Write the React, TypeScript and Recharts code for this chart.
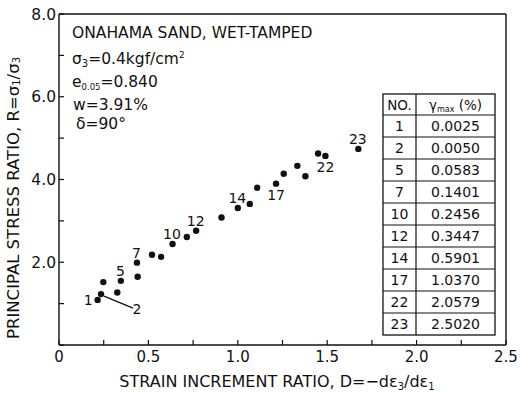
import { ScatterChart, Scatter, XAxis, YAxis } from "recharts";

// specimen numbers, D = -dε3/dε1 and R = σ1/σ3
const testNo = [1, 2, 3, 4, 5, 6, 7, 8, 9, 10, 11, 12, 13, 14, 15, 16, 17, 18, 19, 20, 21, 22, 23];
const strainRatio = [
  0.216, 0.235, 0.248, 0.326, 0.346, 0.44, 0.436, 0.52, 0.571, 0.635, 0.715, 0.767,
  0.909, 1.0, 1.067, 1.108, 1.214, 1.257, 1.333, 1.378, 1.449, 1.49, 1.674,
];
const stressRatio = [
  1.09, 1.23, 1.52, 1.27, 1.55, 1.65, 1.99, 2.18, 2.13, 2.44, 2.61, 2.76,
  3.08, 3.31, 3.41, 3.8, 3.9, 4.14, 4.33, 4.08, 4.63, 4.57, 4.74,
];

// table of labelled tests
const tableNo = [1, 2, 5, 7, 10, 12, 14, 17, 22, 23];
const gammaMax = ["0.0025", "0.0050", "0.0583", "0.1401", "0.2456", "0.3447", "0.5901", "1.0370", "2.0579", "2.5020"];

const xTicks = [0, 0.25, 0.5, 0.75, 1.0, 1.25, 1.5, 1.75, 2.0, 2.25, 2.5];
const yTicks = [0, 1, 2, 3, 4, 5, 6, 7, 8];

const data = testNo.map((no, i) => ({ no, x: strainRatio[i], y: stressRatio[i] }));

const FONT = "'DejaVu Sans', Arial, sans-serif";
const INK = "#111";

const fmtX = (v: number) => (Math.round(v * 100) % 50 === 0 ? (v === 0 ? "0" : v.toFixed(1)) : "");
const fmtY = (v: number) => (v > 0 && v % 2 === 0 ? v.toFixed(1) : "");
const blank = () => "";

const PointShape = (props: any) => {
  const { cx, cy, payload } = props;
  if (cx == null || cy == null) return null;
  const n: number = payload.no;
  const lbl = tableNo.includes(n) ? String(n) : null;
  const txt = { fontFamily: FONT, fontSize: 14, fill: INK };
  let label = null;
  if (lbl) {
    if (n === 1) {
      label = <text x={cx - 5} y={cy + 5} textAnchor="end" {...txt}>{lbl}</text>;
    } else if (n === 2) {
      label = (
        <g>
          <line x1={cx + 3} y1={cy + 2} x2={cx + 32} y2={cy + 14} stroke={INK} strokeWidth={1.2} />
          <text x={cx + 36} y={cy + 20} textAnchor="middle" {...txt}>{lbl}</text>
        </g>
      );
    } else if (n === 17 || n === 22) {
      label = <text x={cx} y={cy + 16} textAnchor="middle" {...txt}>{lbl}</text>;
    } else {
      label = <text x={cx - 0.5} y={cy - 5} textAnchor="middle" {...txt}>{lbl}</text>;
    }
  }
  return (
    <g>
      <circle cx={cx} cy={cy} r={3.2} fill={INK} />
      {label}
    </g>
  );
};

const Sub = ({ children, size = 10 }: { children: any; size?: number }) => (
  <tspan dy={3} fontSize={size}>{children}</tspan>
);

export default function App() {
  const axisStyle = { stroke: INK, strokeWidth: 1.4 };
  const rowH = 22;
  const tTop = 94;
  const headH = 21;
  const tLeft = 383;
  const tMid = 416;
  const tRight = 495;
  const tBottom = tTop + headH + rowH * tableNo.length;

  return (
    <div style={{ position: "absolute", left: 0, top: 0, width: 520, height: 393, background: "#fff" }}>
      <ScatterChart width={520} height={393} margin={{ top: 13, right: 13, bottom: 0, left: 0 }}>
        <XAxis
          xAxisId="b"
          type="number"
          dataKey="x"
          domain={[0, 2.5]}
          ticks={xTicks}
          tickFormatter={fmtX}
          interval={0}
          height={48}
          tickSize={-5}
          tickMargin={11}
          axisLine={axisStyle}
          tickLine={{ stroke: INK, strokeWidth: 1.2 }}
          tick={{ fill: INK, fontSize: 15, fontFamily: FONT }}
        />
        <XAxis
          xAxisId="t"
          orientation="top"
          type="number"
          domain={[0, 2.5]}
          ticks={xTicks}
          tickFormatter={blank}
          interval={0}
          height={1}
          tickSize={-5}
          axisLine={axisStyle}
          tickLine={{ stroke: INK, strokeWidth: 1.2 }}
        />
        <YAxis
          yAxisId="l"
          type="number"
          dataKey="y"
          domain={[0, 8]}
          ticks={yTicks}
          tickFormatter={fmtY}
          interval={0}
          width={59}
          tickSize={-5}
          tickMargin={8}
          axisLine={axisStyle}
          tickLine={{ stroke: INK, strokeWidth: 1.2 }}
          tick={{ fill: INK, fontSize: 15.5, fontFamily: FONT }}
        />
        <YAxis
          yAxisId="r"
          orientation="right"
          type="number"
          domain={[0, 8]}
          ticks={yTicks}
          tickFormatter={blank}
          interval={0}
          width={1}
          tickSize={-5}
          axisLine={axisStyle}
          tickLine={{ stroke: INK, strokeWidth: 1.2 }}
        />
        <Scatter
          xAxisId="b"
          yAxisId="l"
          data={data}
          shape={PointShape}
          isAnimationActive={false}
        />
      </ScatterChart>

      <svg
        width={520}
        height={393}
        style={{ position: "absolute", left: 0, top: 0, pointerEvents: "none" }}
        fontFamily={FONT}
        fill={INK}
      >
        {/* annotation block */}
        <text x={72} y={37.5} fontSize={15.5}>ONAHAMA SAND, WET-TAMPED</text>
        <text x={72} y={64} fontSize={15.5}>
          σ<Sub>3</Sub>
          <tspan dy={-3}>=0.4kgf/cm</tspan>
          <tspan dy={-6} fontSize={9}>2</tspan>
        </text>
        <text x={72} y={87} fontSize={15.5}>
          e<Sub size={8.5}>0.05</Sub>
          <tspan dy={-3}>=0.840</tspan>
        </text>
        <text x={73} y={110} fontSize={15.5}>w=3.91%</text>
        <text x={76} y={129} fontSize={15.5}>δ=90°</text>

        {/* axis titles */}
        <text x={277} y={387} fontSize={16} textAnchor="middle">
          STRAIN INCREMENT RATIO, D=−dε<Sub>3</Sub>
          <tspan dy={-3}>/dε</tspan>
          <Sub>1</Sub>
        </text>
        <text x={14} y={198} fontSize={16.5} textAnchor="middle" transform="rotate(-90 14 198)" dominantBaseline="middle">
          PRINCIPAL STRESS RATIO, R=σ<Sub>1</Sub>
          <tspan dy={-3}>/σ</tspan>
          <Sub>3</Sub>
        </text>

        {/* table */}
        <rect x={tLeft} y={tTop} width={tRight - tLeft} height={tBottom - tTop} fill="#fff" stroke={INK} strokeWidth={1.3} />
        <line x1={tMid} y1={tTop} x2={tMid} y2={tBottom} stroke={INK} strokeWidth={1.2} />
        <line x1={tLeft} y1={tTop + headH} x2={tRight} y2={tTop + headH} stroke={INK} strokeWidth={1.2} />
        {tableNo.map((_, i) =>
          i === 0 ? null : (
            <line
              key={`r${i}`}
              x1={tLeft}
              x2={tRight}
              y1={tTop + headH + rowH * i}
              y2={tTop + headH + rowH * i}
              stroke={INK}
              strokeWidth={1.2}
            />
          )
        )}
        <text x={(tLeft + tMid) / 2} y={tTop + 15.5} fontSize={13.5} textAnchor="middle">NO.</text>
        <text x={(tMid + tRight) / 2} y={tTop + 15.5} fontSize={13.5} textAnchor="middle">
          γ<tspan dy={2} fontSize={8}>max</tspan>
          <tspan dy={-2}> (%)</tspan>
        </text>
        {tableNo.map((n, i) => (
          <g key={n}>
            <text x={(tLeft + tMid) / 2} y={tTop + headH + rowH * i + 16} fontSize={14} textAnchor="middle">{n}</text>
            <text x={(tMid + tRight) / 2} y={tTop + headH + rowH * i + 16} fontSize={14} textAnchor="middle">{gammaMax[i]}</text>
          </g>
        ))}
      </svg>
    </div>
  );
}
